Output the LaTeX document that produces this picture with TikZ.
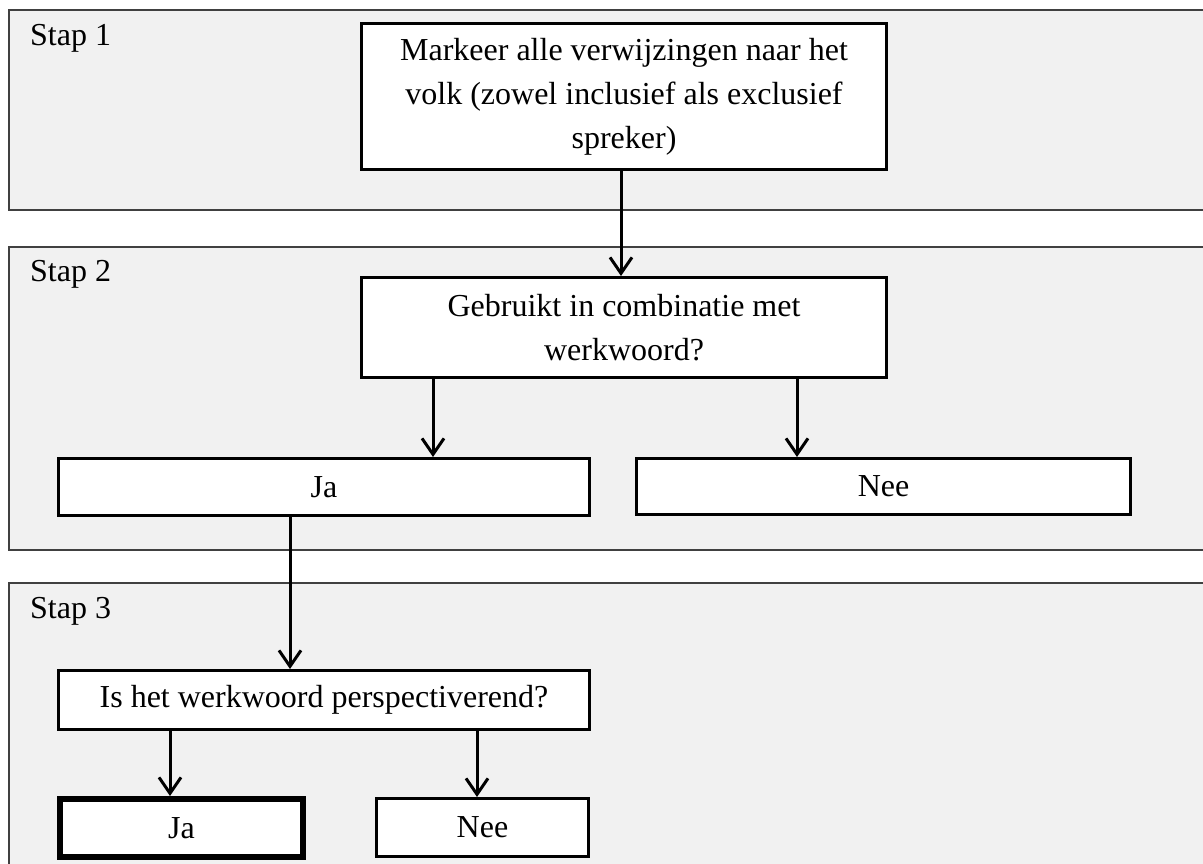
\documentclass[tikz,border=0pt]{standalone}
\usepackage{fontspec}
\setmainfont{Liberation Serif}
\usetikzlibrary{arrows.meta}
\definecolor{panelfill}{HTML}{F1F1F1}
\definecolor{panelline}{HTML}{404040}
\begin{document}
\begin{tikzpicture}[x=1pt,y=-1pt,
  font=\fontsize{32}{44}\selectfont,
  panel/.style={fill=panelfill,draw=panelline,line width=2pt},
  box/.style={draw=black,fill=white,line width=3pt,inner sep=0pt,align=center,anchor=north west},
  boldbox/.style={box,line width=6pt},
  arr/.style={line width=3pt,-{Straight Barb[length=16pt,width=22pt,line width=3pt]}},
  steplabel/.style={anchor=north west,inner sep=0pt}]
\useasboundingbox (0,0) rectangle (1203,864);
\clip (0,0) rectangle (1203,864);
\fill[white] (0,0) rectangle (1203,864);
% panels
\draw[panel] (9,10) rectangle (1215,210);
\draw[panel] (9,247) rectangle (1215,550);
\draw[panel] (9,583) rectangle (1215,880);
\node[steplabel] (s1) at (30,24) {Stap 1};
\node[steplabel] (s2) at (30,260) {Stap 2};
\node[steplabel] (s3) at (30,597) {Stap 3};
% boxes
\node[box,minimum width=525pt,minimum height=146pt] (b1) at (360,22)
  {Markeer alle verwijzingen naar het\\volk (zowel inclusief als exclusief\\spreker)};
\node[box,minimum width=525pt,minimum height=100pt] (b2) at (360,276)
  {Gebruikt in combinatie met\\werkwoord?};
\node[box,minimum width=531pt,minimum height=57pt] (ja1) at (57,457) {Ja};
\node[box,minimum width=494pt,minimum height=56pt] (nee1) at (635,457) {Nee};
\node[box,minimum width=531pt,minimum height=59pt] (q) at (57,669) {Is het werkwoord perspectiverend?};
\node[boldbox,minimum width=243pt,minimum height=58pt] (ja2) at (57,796) {Ja};
\node[box,minimum width=212pt,minimum height=58pt] (nee2) at (375,797) {Nee};
% arrows
\draw[arr] (b1.south -| 621,0) -- (b2.north -| 621,0);
\draw[arr] (b2.south -| 433,0) -- (ja1.north -| 433,0);
\draw[arr] (b2.south -| 797,0) -- (nee1.north -| 797,0);
\draw[arr] (ja1.south -| 290,0) -- (q.north -| 290,0);
\draw[arr] (q.south -| 170,0) -- (ja2.north -| 170,0);
\draw[arr] (q.south -| 477,0) -- (nee2.north -| 477,0);
\end{tikzpicture}
\end{document}
